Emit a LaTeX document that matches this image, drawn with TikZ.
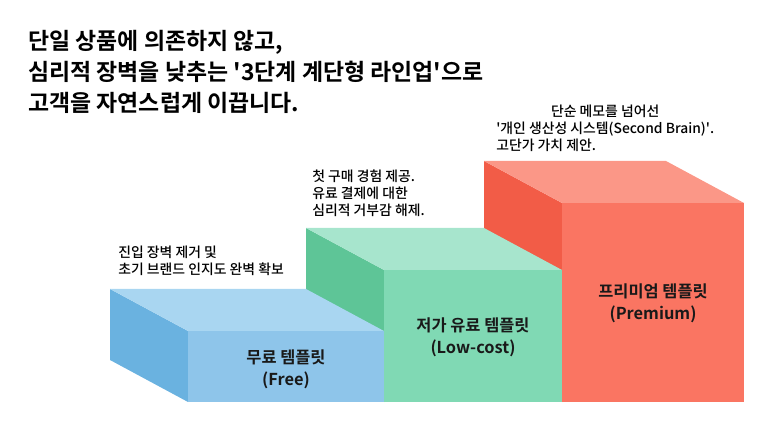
\documentclass[tikz,border=0pt]{standalone}
\usepackage{fontspec}
\setmainfont{Noto Sans CJK KR}[BoldFont={Noto Sans CJK KR Bold}]
\newfontfamily\notefont{Noto Sans CJK KR Medium}
\definecolor{bluetop}{HTML}{A9D6F1}
\definecolor{blueside}{HTML}{6AB2E0}
\definecolor{bluefront}{HTML}{8EC5EA}
\definecolor{greentop}{HTML}{A7E5CD}
\definecolor{greenside}{HTML}{5EC597}
\definecolor{greenfront}{HTML}{80D9B4}
\definecolor{redtop}{HTML}{FB9787}
\definecolor{redside}{HTML}{F25C47}
\definecolor{redfront}{HTML}{FA7562}
\tikzset{
  headline/.style={anchor=west,inner sep=0pt,align=left,font=\fontsize{17.2}{23.25}\selectfont\bfseries},
  note/.style={anchor=west,inner sep=0pt,align=left,font=\fontsize{10.4}{12.75}\selectfont\notefont},
  tier/.style={inner sep=0pt,align=center,text=black!90,font=\fontsize{12.3}{16.5}\selectfont\bfseries}
}
\begin{document}
\begin{tikzpicture}[x=0.75pt,y=-0.75pt]
      \useasboundingbox (0,0) rectangle (773,423);
      % title
      \node[headline] (title) at (28,72) {단일 상품에 의존하지 않고,\\심리적 장벽을 낮추는 \textquotesingle3단계 계단형 라인업\textquotesingle 으로\\고객을 자연스럽게 이끕니다.};
      % premium block
      \fill[redside] (484,161) -- (562,203) -- (562,402) -- (484,360) -- cycle;
      \fill[redtop] (484,161) -- (666,161) -- (744,203) -- (562,203) -- cycle;
      \fill[redfront] (562,203) rectangle (744,402);
      \node[tier] (premium) at (653,303) {프리미엄 템플릿\\(Premium)};
      % low-cost block
      \fill[greenside] (306,228) -- (384,270) -- (384,402) -- (306,360) -- cycle;
      \fill[greentop] (306,228) -- (484,228) -- (562,270) -- (384,270) -- cycle;
      \fill[greenfront] (384,270) rectangle (562,402);
      \node[tier] (lowcost) at (473,337) {저가 유료 템플릿\\(Low-cost)};
      % free block
      \fill[blueside] (110,289) -- (188,331) -- (188,402) -- (110,360) -- cycle;
      \fill[bluetop] (110,289) -- (306,289) -- (384,331) -- (188,331) -- cycle;
      \fill[bluefront] (188,331) rectangle (384,402);
      \node[tier] (free) at (286,369) {무료 템플릿\\(Free)};
      % notes
      \node[note] (freenote) at (118,261) {진입 장벽 제거 및\\초기 브랜드 인지도 완벽 확보};
      \node[note] (lowcostnote) at (312,193) {첫 구매 경험 제공.\\유료 결제에 대한\\심리적 거부감 해제.};
      \node[note] (premiumnote) at (496,130) {\begin{tabular}{@{}l@{}}\multicolumn{1}{@{}c@{}}{단순 메모를 넘어선}\\\textquotesingle 개인 생산성 시스템(Second Brain)\textquotesingle.\\고단가 가치 제안.\end{tabular}};
    \end{tikzpicture}
\end{document}
